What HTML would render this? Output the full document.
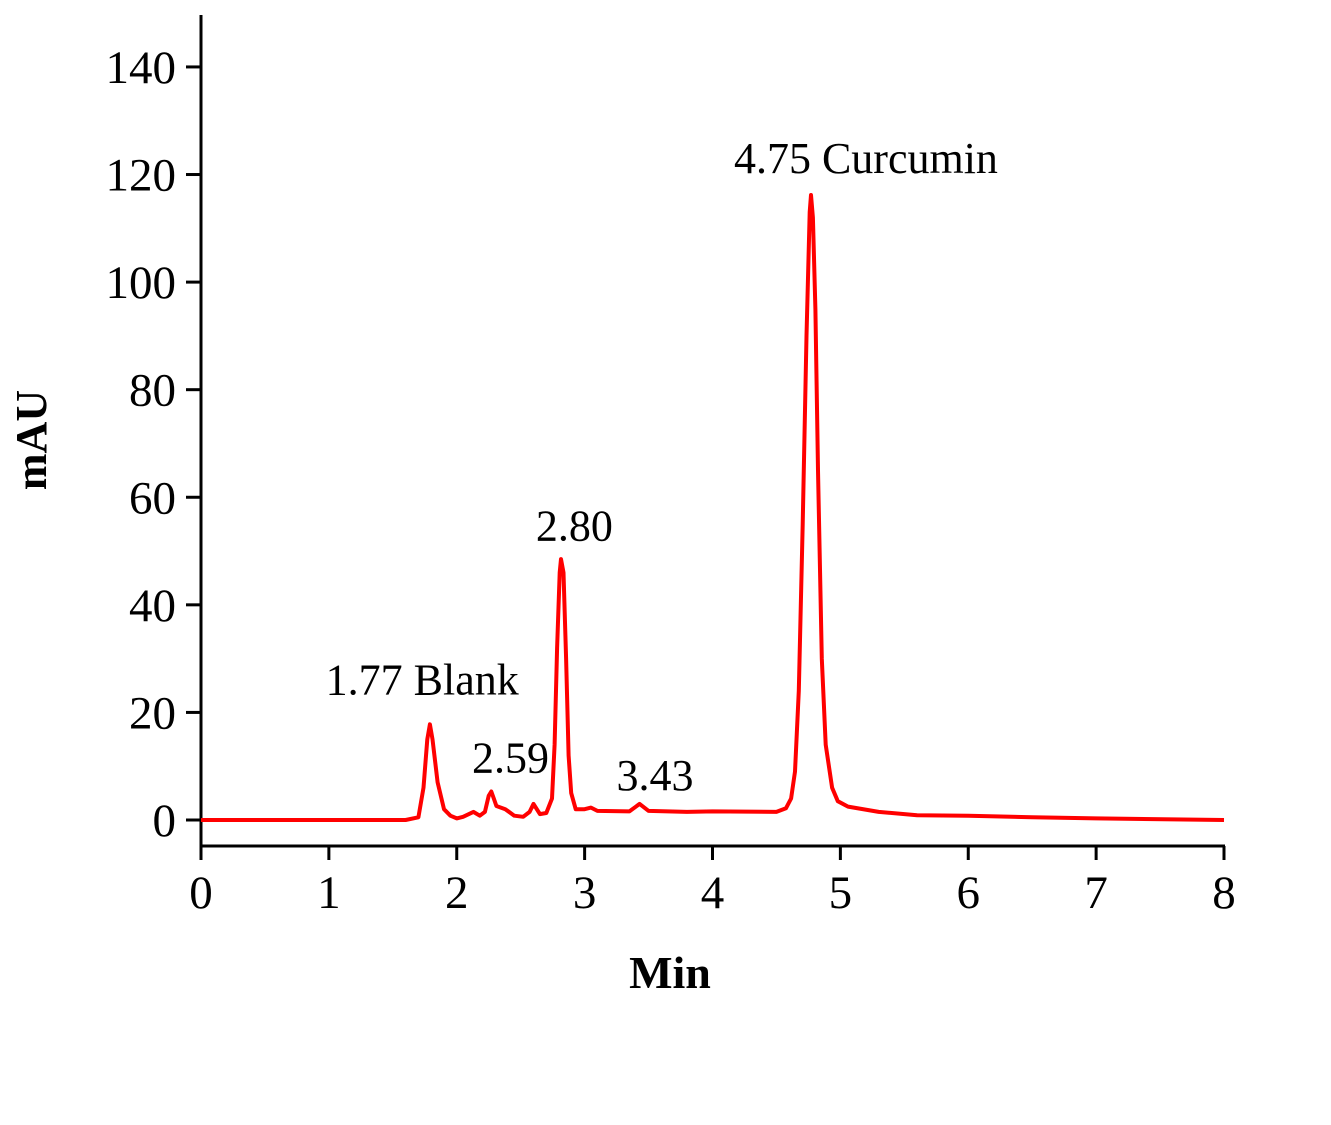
<!DOCTYPE html>
<html><head><meta charset="utf-8"><style>
body{margin:0;background:#fff}
svg{display:block;font-family:"Liberation Serif",serif}
</style></head><body>
<svg id="chart" width="1331" height="1125" viewBox="0 0 1331 1125">
<g id="axes"></g>
<path id="trace" fill="none" stroke="#ff0000" stroke-width="4" stroke-linejoin="round"/>
<g id="ann"></g>
<text transform="translate(46,440) rotate(-90)" text-anchor="middle" font-size="44" font-weight="bold">mAU</text>
<text x="670" y="988" text-anchor="middle" font-size="46" font-weight="bold">Min</text>
</svg>
<script>
const times=[0,1.6,1.7,1.74,1.77,1.79,1.81,1.85,1.9,1.95,2.0,2.05,2.13,2.18,2.22,2.25,2.27,2.29,2.31,2.38,2.45,2.52,2.57,2.6,2.65,2.7,2.745,2.765,2.785,2.805,2.815,2.835,2.855,2.875,2.895,2.93,3.0,3.05,3.1,3.35,3.43,3.5,3.8,4.0,4.5,4.575,4.615,4.645,4.675,4.705,4.735,4.76,4.77,4.785,4.805,4.825,4.855,4.885,4.935,4.98,5.06,5.3,5.6,6,6.5,7,8];
const mau=[0,0,0.5,6,15,17.8,15,7,2,0.8,0.3,0.6,1.5,0.8,1.5,4.5,5.3,4,2.6,2,0.8,0.6,1.5,3,1.1,1.3,4,14,32,46,48.5,46,30,12,5,2,2,2.3,1.7,1.6,3,1.7,1.5,1.6,1.5,2.2,4,9,24,55,90,113,116.2,112,95,65,30,14,6,3.5,2.5,1.5,0.9,0.8,0.5,0.3,0];
const xTicks=[0,1,2,3,4,5,6,7,8];
const yTicks=[0,20,40,60,80,100,120,140];
const peakLabels=["1.77 Blank","2.59","2.80","3.43","4.75 Curcumin"];
const peakLabelX=[1.73,2.42,2.92,3.55,5.2];
const peakLabelY=[23.3,8.8,52,5.6,120.3];
const X=t=>201+t*127.875, Y=v=>820-v*5.379;
const NS="http://www.w3.org/2000/svg";
const ax=document.getElementById('axes');
function mk(tag,attrs,parent,txt){const e=document.createElementNS(NS,tag);for(const k in attrs)e.setAttribute(k,attrs[k]);if(txt!==undefined)e.textContent=txt;parent.appendChild(e);return e;}
let yl=mk('line',{x1:201,y1:15,x2:201,y2:846,stroke:'#000','stroke-width':3},ax);


let xl=mk('line',{x1:200,y1:846,x2:1225,y2:846,stroke:'#000','stroke-width':3},ax);


xTicks.forEach(t=>{
 let l=mk('line',{x1:X(t),y1:846,x2:X(t),y2:860,stroke:'#000','stroke-width':3},ax);
 
 
 let s=mk('text',{x:X(t),y:908,'text-anchor':'middle','font-size':47},ax,String(t));
 
 
});
yTicks.forEach(v=>{
 let l=mk('line',{x1:186,y1:Y(v),x2:201,y2:Y(v),stroke:'#000','stroke-width':3},ax);
 
 
 let s=mk('text',{x:176,y:Y(v)+16,'text-anchor':'end','font-size':47},ax,String(v));
 
 
});
document.getElementById('trace').setAttribute('d',times.map((t,i)=>(i?'L':'M')+X(t).toFixed(1)+','+Y(mau[i]).toFixed(1)).join(''));
const an=document.getElementById('ann');
peakLabels.forEach((s,i)=>{
 let e=mk('text',{x:X(peakLabelX[i]),y:Y(peakLabelY[i]),'text-anchor':'middle','font-size':44},an,s);
 
 
});
</script>
</body></html>
